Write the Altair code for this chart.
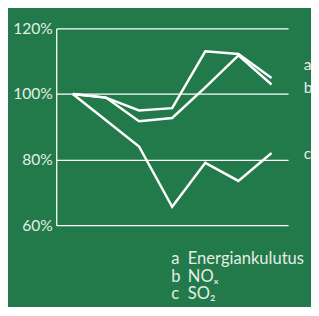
import altair as alt
import pandas as pd

BG = "#22794a"
FG = "#ffffff"
TXT = "#e4eee6"
FONT = "Lato"

years = [0, 1, 2, 3, 4, 5, 6]
energia = [100, 98.9, 95.0, 95.7, 113.0, 112.2, 104.9]
nox = [100, 98.9, 91.7, 92.7, 102.0, 111.8, 102.9]
so2 = [100, 92.0, 84.0, 65.6, 79.0, 73.5, 82.0]

series_keys = ["a", "b", "c"]
series_names = ["Energiankulutus", "NOₓ", "SO₂"]
label_y = [108.7, 101.8, 81.8]

rows = []
for key, vals in zip(series_keys, [energia, nox, so2]):
    for x, v in zip(years, vals):
        rows.append({"x": x, "v": v, "s": key})
df = pd.DataFrame(rows)

xs = alt.Scale(domain=[-0.5, 6.5])
ys = alt.Scale(domain=[60, 120])

lines = alt.Chart(df).mark_line(color=FG, strokeWidth=2.5, strokeJoin="miter").encode(
    x=alt.X("x:Q", scale=xs, axis=None),
    y=alt.Y("v:Q", scale=ys, axis=alt.Axis(values=[60, 80, 100, 120], labelExpr="datum.value + '%'",
                                          title=None, ticks=False, domain=True, domainColor=FG,
                                          domainWidth=1.3, grid=True, gridColor=FG, gridWidth=1.3,
                                          gridOpacity=1, labelColor=TXT, labelFontSize=16,
                                          labelFont=FONT, labelPadding=4)),
    detail="s:N",
)

lab_df = pd.DataFrame({"k": series_keys, "y": label_y})
end_labels = alt.Chart(lab_df).mark_text(align="left", baseline="middle", fontSize=16,
                                         font=FONT, color=TXT).encode(
    x=alt.value(254), y=alt.Y("y:Q", scale=ys, axis=None), text="k:N")

leg_df = pd.DataFrame({"k": series_keys, "n": series_names, "i": [0, 1, 2]})
leg_y = alt.Y("i:Q", scale=alt.Scale(domain=[0, 2], range=[237, 273]), axis=None)
leg_k = alt.Chart(leg_df).mark_text(align="left", baseline="middle", fontSize=17,
                                    font=FONT, color=TXT).encode(
    x=alt.value(118), y=leg_y, text="k:N")
leg_n = alt.Chart(leg_df).mark_text(align="left", baseline="middle", fontSize=17,
                                    font=FONT, color=TXT).encode(
    x=alt.value(135), y=leg_y, text="n:N")

chart = alt.layer(lines, end_labels, leg_k, leg_n).resolve_scale(y="independent").properties(
    width=238, height=202,
    autosize=alt.AutoSizeParams(type="none"),
    padding={"left": 49.5, "top": 17, "right": 23.5, "bottom": 80},
    background=BG,
).configure_view(stroke=None)

chart.save("out.html", embed_options={"renderer": "svg", "actions": False})
